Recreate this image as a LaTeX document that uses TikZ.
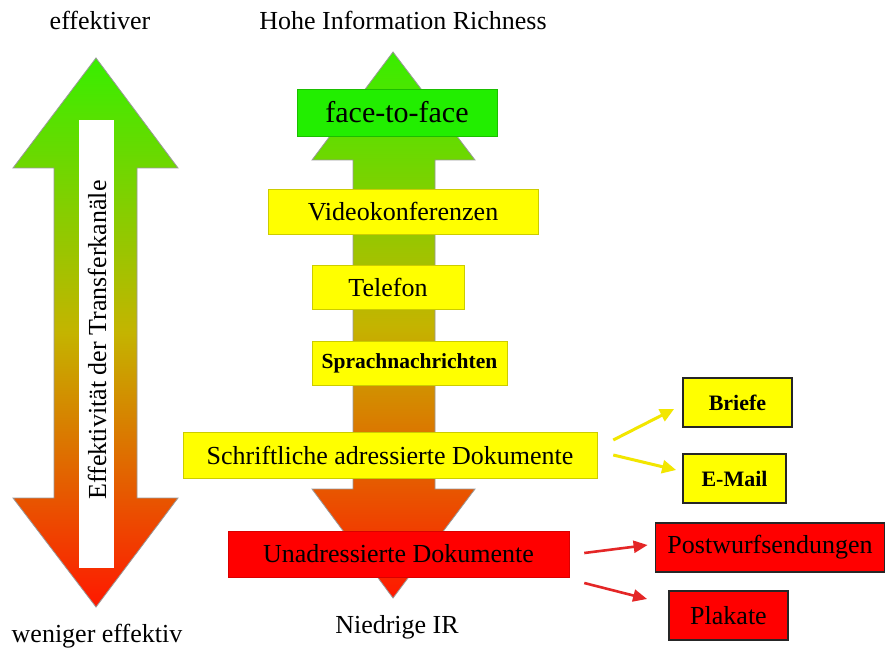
\documentclass[tikz,border=0pt]{standalone}
\usepackage{fontspec}
\setmainfont{Liberation Serif}
\usetikzlibrary{arrows.meta}
\definecolor{hiGreen}{HTML}{38EE00}
\definecolor{midOlive}{HTML}{C4B400}
\definecolor{loRed}{HTML}{FF1800}
\definecolor{boxGreen}{HTML}{22EE00}
\definecolor{boxYellow}{HTML}{FFFF00}
\definecolor{boxRed}{HTML}{FF0000}
\definecolor{linkYellow}{HTML}{F2E600}
\definecolor{linkRed}{HTML}{E42626}
\tikzset{
  bigtxt/.style={font=\fontsize{26}{30}\selectfont},
  chan/.style={bigtxt, fill=boxYellow, draw=boxYellow!80!black, line width=0.5pt, inner sep=0pt},
  subchan/.style={draw=black!85, line width=1.8pt, inner sep=0pt, minimum height=49pt},
  ylink/.style={linkYellow, line width=3pt, -{Triangle[length=14pt,width=13pt]}},
  rlink/.style={linkRed, line width=2.6pt, -{Triangle[length=14pt,width=12pt]}},
  bigarrow/.style={draw=black!40, line width=0.8pt, top color=hiGreen, bottom color=loRed, middle color=midOlive}
}
\begin{document}
\begin{tikzpicture}[x=1pt,y=-1pt]
\useasboundingbox[fill=white] (0,0) rectangle (886,655);
\path[bigarrow] (96,58) -- (178,168) -- (137,168) -- (137,498) -- (178,498) -- (96,607)
  -- (13,498) -- (54,498) -- (54,168) -- (13,168) -- cycle;
\fill[white] (79,120) rectangle (114,568);
\node[bigtxt,rotate=90] (effAxis) at (97,340) {Effektivität der Transferkanäle};
\node[bigtxt] (effTop) at (100,20) {effektiver};
\node[bigtxt] (effBot) at (97,636) {weniger effektiv};
\path[bigarrow] (393,52) -- (475,160) -- (435,160) -- (435,489) -- (475,489) -- (393,598)
  -- (312,489) -- (353,489) -- (353,160) -- (312,160) -- cycle;
\node[bigtxt] (hiIR) at (403,20) {Hohe Information Richness};
\node[bigtxt] (loIR) at (397,627) {Niedrige IR};
\node[font=\fontsize{30}{34}\selectfont, fill=boxGreen, draw=boxGreen!80!black, line width=0.5pt, inner sep=0pt,
  minimum width=200pt, minimum height=47pt] (face) at (397,112.5) {face-to-face};
\node[chan, minimum width=270pt, minimum height=45pt] (video) at (403,211.5) {Videokonferenzen};
\node[chan, minimum width=152pt, minimum height=44pt] (tel) at (388,287) {Telefon};
\node[chan, font=\fontsize{21.5}{26}\selectfont\bfseries, minimum width=195pt, minimum height=44pt] (sprach) at (409.5,363) {Sprachnachrichten};
\node[chan, minimum width=414pt, minimum height=46pt] (schrift) at (390,455) {Schriftliche adressierte Dokumente};
\node[chan, fill=boxRed, draw=boxRed!85!black, minimum width=341pt, minimum height=46pt] (unadr) at (398.5,554) {Unadressierte Dokumente};
\node[subchan, fill=boxYellow, font=\fontsize{22}{26}\selectfont\bfseries, minimum width=109pt] (briefe) at (737.5,402.5) {Briefe};
\node[subchan, fill=boxYellow, font=\fontsize{22}{26}\selectfont\bfseries, minimum width=103pt] (email) at (734.5,478.5) {E-Mail};
\node[subchan, fill=boxRed, bigtxt, minimum width=229pt] (postw) at (770,547.5) {Postwurfsendungen};
\node[subchan, fill=boxRed, bigtxt, minimum width=119pt] (plakate) at (728.5,615.5) {Plakate};
\draw[ylink] ([xshift=16pt,yshift=15pt]schrift.east) -- ([xshift=-8pt,yshift=-6.5pt]briefe.west);
\draw[ylink] ([xshift=16pt]schrift.east) -- ([xshift=-6pt,yshift=8.5pt]email.west);
\draw[rlink] ([xshift=15pt,yshift=1pt]unadr.east) -- ([xshift=-7pt,yshift=2.5pt]postw.west);
\draw[rlink] ([xshift=15pt,yshift=-29pt]unadr.east) -- ([xshift=-21pt,yshift=16.5pt]plakate.west);
\end{tikzpicture}
\end{document}
